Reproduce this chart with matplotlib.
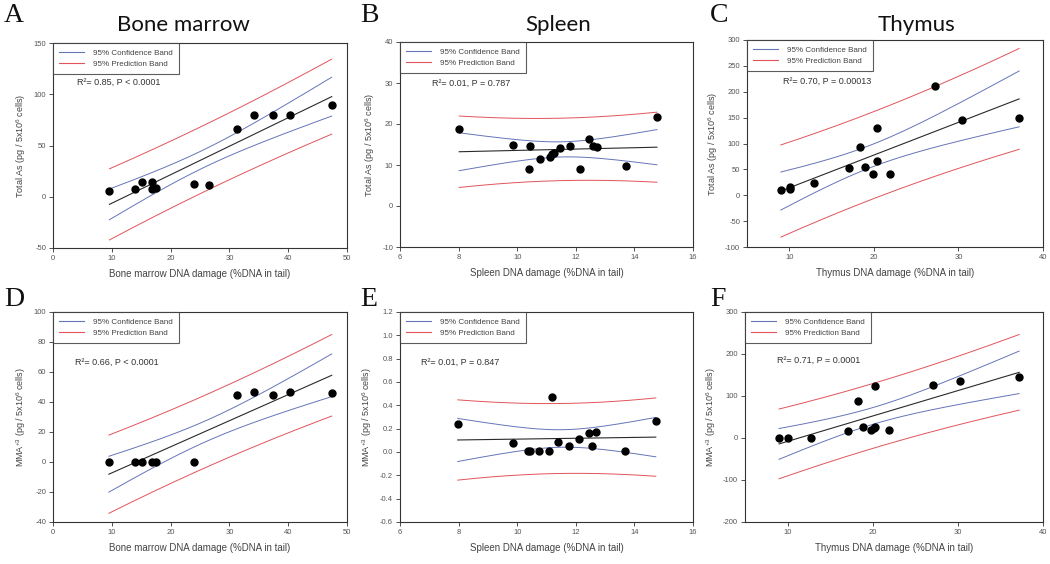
import numpy as np
import matplotlib
matplotlib.use("Agg")
import matplotlib.pyplot as plt
from matplotlib.lines import Line2D

plt.rcParams['font.family'] = ['Liberation Sans', 'DejaVu Sans']
plt.rcParams['mathtext.fontset'] = 'custom'
plt.rcParams['mathtext.rm'] = 'Liberation Sans'
plt.rcParams['mathtext.it'] = 'Liberation Sans:italic'

# ---------------- data ----------------
bm_x_total = [9.6, 14.0, 15.2, 16.9, 16.9, 17.6, 23.9, 26.6, 31.25, 34.2, 37.4, 40.3, 47.4]
bm_y_total = [6, 8, 14, 14, 7.5, 8.5, 12.5, 11, 66, 80, 80, 80, 90]

sp_x_total = [8.02, 9.86, 10.43, 10.40, 10.77, 11.11, 11.19, 11.25, 11.45, 11.80,
              12.14, 12.45, 12.59, 12.73, 13.73, 14.77]
sp_y_total = [18.8, 14.8, 14.6, 9.1, 11.4, 12.0, 12.6, 13.0, 14.2, 14.6,
              9.1, 16.3, 14.6, 14.5, 9.8, 21.6]

th_x_total = [9.0, 10.1, 10.1, 12.9, 17.05, 18.35, 18.98, 19.92, 20.39, 20.39,
              21.96, 27.18, 30.47, 37.18]
th_y_total = [10, 16, 12, 23, 52, 94, 55, 42, 130, 67, 42, 212, 145, 149]

bm_x_mma = [9.5, 14.0, 15.2, 16.8, 17.6, 23.9, 31.25, 34.2, 37.4, 40.3, 47.4]
bm_y_mma = [0, 0, 0, 0, 0, 0, 45, 46.5, 45, 46.5, 46]

sp_x_mma = [7.97, 9.84, 10.38, 10.43, 10.75, 11.09, 11.18, 11.40, 11.77, 12.10,
            12.44, 12.56, 12.70, 13.69, 14.73]
sp_y_mma = [0.24, 0.08, 0.01, 0.01, 0.01, 0.01, 0.47, 0.09, 0.05, 0.11,
            0.16, 0.05, 0.175, 0.01, 0.265]

th_x_mma = [9.0, 10.0, 12.8, 17.05, 18.3, 18.9, 19.84, 20.1, 20.3, 20.3, 21.9, 27.1, 30.3, 37.2]
th_y_mma = [0, 0, 0, 17, 89, 27, 19, 24, 27, 123, 19, 126, 135, 146]

panel_letters = ["A", "B", "C", "D", "E", "F"]
column_titles = ["Bone marrow", "Spleen", "Thymus"]
x_labels = ["Bone marrow DNA damage (%DNA in tail)",
            "Spleen DNA damage (%DNA in tail)",
            "Thymus DNA damage (%DNA in tail)"]
y_label_total = r"Total As (pg / 5x10$^6$ cells)"
y_label_mma = r"MMA$^{+3}$ (pg / 5x10$^6$ cells)"
stats_text = ["R²= 0.85, P < 0.0001", "R²= 0.01, P = 0.787", "R²= 0.70, P = 0.00013",
              "R²= 0.66, P < 0.0001", "R²= 0.01, P = 0.847", "R²= 0.71, P = 0.0001"]
legend_labels = ["95% Confidence Band", "95% Prediction Band"]

# t critical values (two-sided 95%) by degrees of freedom
T95 = {8: 2.306, 9: 2.262, 10: 2.228, 11: 2.201, 12: 2.179, 13: 2.160, 14: 2.145, 15: 2.131}

# ---------------- layout ----------------
W, H = 1050, 564
fig = plt.figure(figsize=(W / 100, H / 100), dpi=100)


def add_axes_px(x0, x1, top, bottom):
    return fig.add_axes([x0 / W, 1 - bottom / H, (x1 - x0) / W, (bottom - top) / H])


panels = [
    dict(box=(53, 347, 43, 248), x=bm_x_total, y=bm_y_total, xlim=(0, 50), xt=np.arange(0, 51, 10),
         ylim=(-50, 150), yt=np.arange(-50, 151, 50), fmt="{:.0f}", ylab=y_label_total, txt=(0.08, 0.81)),
    dict(box=(400, 693, 42, 247), x=sp_x_total, y=sp_y_total, xlim=(6, 16), xt=np.arange(6, 17, 2),
         ylim=(-10, 40), yt=np.arange(-10, 41, 10), fmt="{:.0f}", ylab=y_label_total, txt=(0.11, 0.80)),
    dict(box=(747, 1043, 40, 247), x=th_x_total, y=th_y_total, xlim=(5, 40), xt=np.arange(10, 41, 10),
         ylim=(-100, 300), yt=np.arange(-100, 301, 50), fmt="{:.0f}", ylab=y_label_total, txt=(0.12, 0.80)),
    dict(box=(53, 347, 312, 522), x=bm_x_mma, y=bm_y_mma, xlim=(0, 50), xt=np.arange(0, 51, 10),
         ylim=(-40, 100), yt=np.arange(-40, 101, 20), fmt="{:.0f}", ylab=y_label_mma, txt=(0.075, 0.76)),
    dict(box=(400, 693, 312, 522), x=sp_x_mma, y=sp_y_mma, xlim=(6, 16), xt=np.arange(6, 17, 2),
         ylim=(-0.6, 1.2), yt=np.arange(-0.6, 1.21, 0.2), fmt="{:.1f}", ylab=y_label_mma, txt=(0.07, 0.76)),
    dict(box=(745, 1043, 312, 522), x=th_x_mma, y=th_y_mma, xlim=(5, 40), xt=np.arange(10, 41, 10),
         ylim=(-200, 300), yt=np.arange(-200, 301, 100), fmt="{:.0f}", ylab=y_label_mma, txt=(0.107, 0.77)),
]

conf_color = "#6674b8"
pred_color = "#e0545a"
tick_color = "#555555"
label_color = "#444444"

for i, p in enumerate(panels):
    ax = add_axes_px(*p["box"])
    x = np.asarray(p["x"], float)
    y = np.asarray(p["y"], float)
    n = len(x)
    slope, icpt = np.polyfit(x, y, 1)
    resid = y - (slope * x + icpt)
    s = np.sqrt(np.sum(resid ** 2) / (n - 2))
    xm = x.mean()
    sxx = np.sum((x - xm) ** 2)
    t = T95[n - 2]
    xs = np.linspace(x.min(), x.max(), 200)
    yfit = slope * xs + icpt
    se_c = s * np.sqrt(1 / n + (xs - xm) ** 2 / sxx)
    se_p = s * np.sqrt(1 + 1 / n + (xs - xm) ** 2 / sxx)

    ax.plot(xs, yfit, color="#2a2a2a", lw=0.8, zorder=3)
    ax.plot(xs, yfit + t * se_c, color=conf_color, lw=0.7, zorder=2)
    ax.plot(xs, yfit - t * se_c, color=conf_color, lw=0.7, zorder=2)
    ax.plot(xs, yfit + t * se_p, color=pred_color, lw=0.7, zorder=2)
    ax.plot(xs, yfit - t * se_p, color=pred_color, lw=0.7, zorder=2)
    ax.plot(x, y, "o", color="black", ms=5, zorder=4, clip_on=False)

    ax.set_xlim(*p["xlim"])
    ax.set_ylim(*p["ylim"])
    ax.set_xticks(p["xt"])
    ax.set_yticks(p["yt"])
    ax.set_yticklabels([p["fmt"].format(v + 0.0) for v in p["yt"]])
    ax.tick_params(direction="out", length=3, width=0.6, labelsize=5.5, colors="#333333",
                   labelcolor=tick_color, pad=2)
    for sp in ax.spines.values():
        sp.set_linewidth(0.8)
        sp.set_color("#333333")

    ax.set_xlabel(x_labels[i % 3], fontsize=7, color=label_color, labelpad=5)
    ax.set_ylabel(p["ylab"], fontsize=6.5, color=label_color, labelpad=4)

    handles = [Line2D([], [], color=conf_color, lw=0.8), Line2D([], [], color=pred_color, lw=0.8)]
    leg = ax.legend(handles, legend_labels, loc="upper left", bbox_to_anchor=(0, 1),
                    fontsize=5.8, frameon=True, fancybox=False, borderaxespad=0,
                    handlelength=3.0, handletextpad=1.2, borderpad=0.8, labelspacing=0.35,
                    labelcolor=label_color)
    leg.get_frame().set_edgecolor("#333333")
    leg.get_frame().set_linewidth(0.8)

    ax.text(p["txt"][0], p["txt"][1], stats_text[i], transform=ax.transAxes,
            fontsize=6.5, color="#333333", va="center", ha="left")

# panel letters
letter_pos = [(14, 15), (369, 15), (719, 15), (14, 299), (369, 299), (718, 299)]
for letter, (px, py) in zip(panel_letters, letter_pos):
    fig.text(px / W, 1 - py / H, letter, fontsize=20, family="Liberation Serif",
             ha="center", va="center", color="#111111")

# column titles
title_pos = [(183, 25), (558, 25), (917, 25)]
for t_, (px, py) in zip(column_titles, title_pos):
    fig.text(px / W, 1 - py / H, t_, fontsize=16, family="Lato", ha="center", va="center",
             color="#111111")

fig.savefig("out.png", dpi=100)
